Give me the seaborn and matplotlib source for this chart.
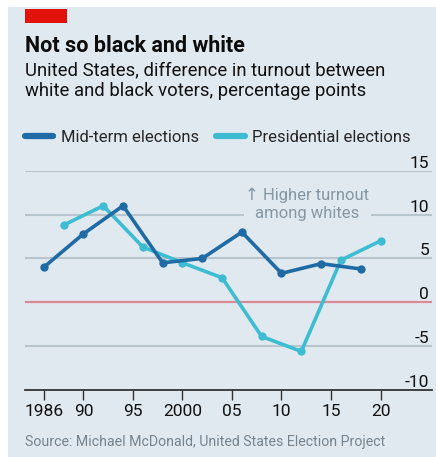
import pandas as pd
import seaborn as sns
import matplotlib.pyplot as plt
from matplotlib.patches import Rectangle

# chart data
midterm_years = [1986, 1990, 1994, 1998, 2002, 2006, 2010, 2014, 2018]
midterm_gap = [4.0, 7.8, 11.0, 4.5, 5.0, 8.0, 3.3, 4.4, 3.8]
pres_years = [1988, 1992, 1996, 2000, 2004, 2008, 2012, 2016, 2020]
pres_gap = [8.8, 11.0, 6.3, 4.5, 2.8, -3.9, -5.6, 4.8, 7.0]
series_names = ["Mid-term elections", "Presidential elections"]
x_ticks = [1986, 1990, 1995, 2000, 2005, 2010, 2015, 2020]
x_labels = ["1986", "90", "95", "2000", "05", "10", "15", "20"]
y_ticks = [-10, -5, 0, 5, 10, 15]

df = pd.concat([
    pd.DataFrame({"year": midterm_years, "gap": midterm_gap, "type": series_names[0]}),
    pd.DataFrame({"year": pres_years, "gap": pres_gap, "type": series_names[1]}),
])

bg = "#e1e9f0"
sns.set_theme(style="white")
plt.rcParams["font.family"] = ["Roboto", "DejaVu Sans"]

fig = plt.figure(figsize=(4.36, 4.57), dpi=100, facecolor="white")
# panel background and red tag
fig.patches.append(Rectangle((8 / 436, 0), 1, 1 - 7 / 457, transform=fig.transFigure,
                             facecolor=bg, edgecolor="none", zorder=-10))
fig.patches.append(Rectangle((25 / 436, 1 - 22.5 / 457), 42 / 436, 13.5 / 457,
                             transform=fig.transFigure, facecolor="#e3120b",
                             edgecolor="none", zorder=-5))

ax = fig.add_axes([25 / 436, 1 - 390 / 457, 407 / 436, 219.3 / 457])
ax.set_facecolor(bg)

palette = {series_names[0]: "#1f6ba5", series_names[1]: "#3ebcd2"}

# gridlines
for y in [-5, 5, 10, 15]:
    ax.axhline(y, color="#b9c5cd", lw=1.5, zorder=1)
ax.axhline(0, color="#d98a96", lw=1.6, zorder=1)

sns.lineplot(data=df, x="year", y="gap", hue="type", hue_order=series_names[::-1],
             palette=palette, marker="o", markersize=6, markeredgewidth=0,
             linewidth=2.6, ax=ax, legend=False, zorder=3)

ax.set_xlim(1984.1, 2025.2)
ax.set_ylim(-10, 15)
ax.set_xlabel("")
ax.set_ylabel("")
for s in ["top", "left", "right"]:
    ax.spines[s].set_visible(False)
ax.spines["bottom"].set_color("#333333")
ax.spines["bottom"].set_linewidth(1.3)

ax.set_xticks(x_ticks)
ax.set_xticklabels(x_labels)
ax.tick_params(axis="x", direction="out", length=7, width=1, color="#333333",
               labelsize=12.5, pad=3, labelcolor="#111111", bottom=True)

ax.yaxis.tick_right()
ax.set_yticks(y_ticks)
ax.set_yticklabels([str(v) for v in y_ticks])
ax.tick_params(axis="y", length=0, pad=-2, labelsize=12.5, labelcolor="#111111")
for lab in ax.get_yticklabels():
    lab.set_horizontalalignment("right")
    lab.set_verticalalignment("bottom")

ax.text(2012.6, 11.2, "\u2191 Higher turnout\namong whites", ha="center", va="center",
        fontsize=12, color="#8596a3", linespacing=1.25, zorder=2,
        bbox=dict(facecolor=bg, edgecolor="none", pad=1))

# titles
fig.text(25 / 436, 1 - 52 / 457, "Not so black and white", fontsize=15.5,
         fontweight="bold", color="#0c0c0c")
fig.text(25 / 436, 1 - 61 / 457,
         "United States, difference in turnout between\nwhite and black voters, percentage points",
         fontsize=13.3, color="#111111", linespacing=1.2, va="top")

# legend
handles = [plt.Line2D([], [], color=palette[n], lw=4.5) for n in series_names]
fig.legend(handles, series_names, loc="center left", bbox_to_anchor=(25 / 436, 1 - 137 / 457),
           ncol=2, frameon=False, fontsize=12, handlelength=1.7, handletextpad=0.45,
           columnspacing=1.05, borderaxespad=0, borderpad=0)

fig.text(25 / 436, 1 - 446 / 457, "Source: Michael McDonald, United States Election Project",
         fontsize=10.2, color="#75848f")

fig.savefig("out.png", dpi=100, facecolor="white")
